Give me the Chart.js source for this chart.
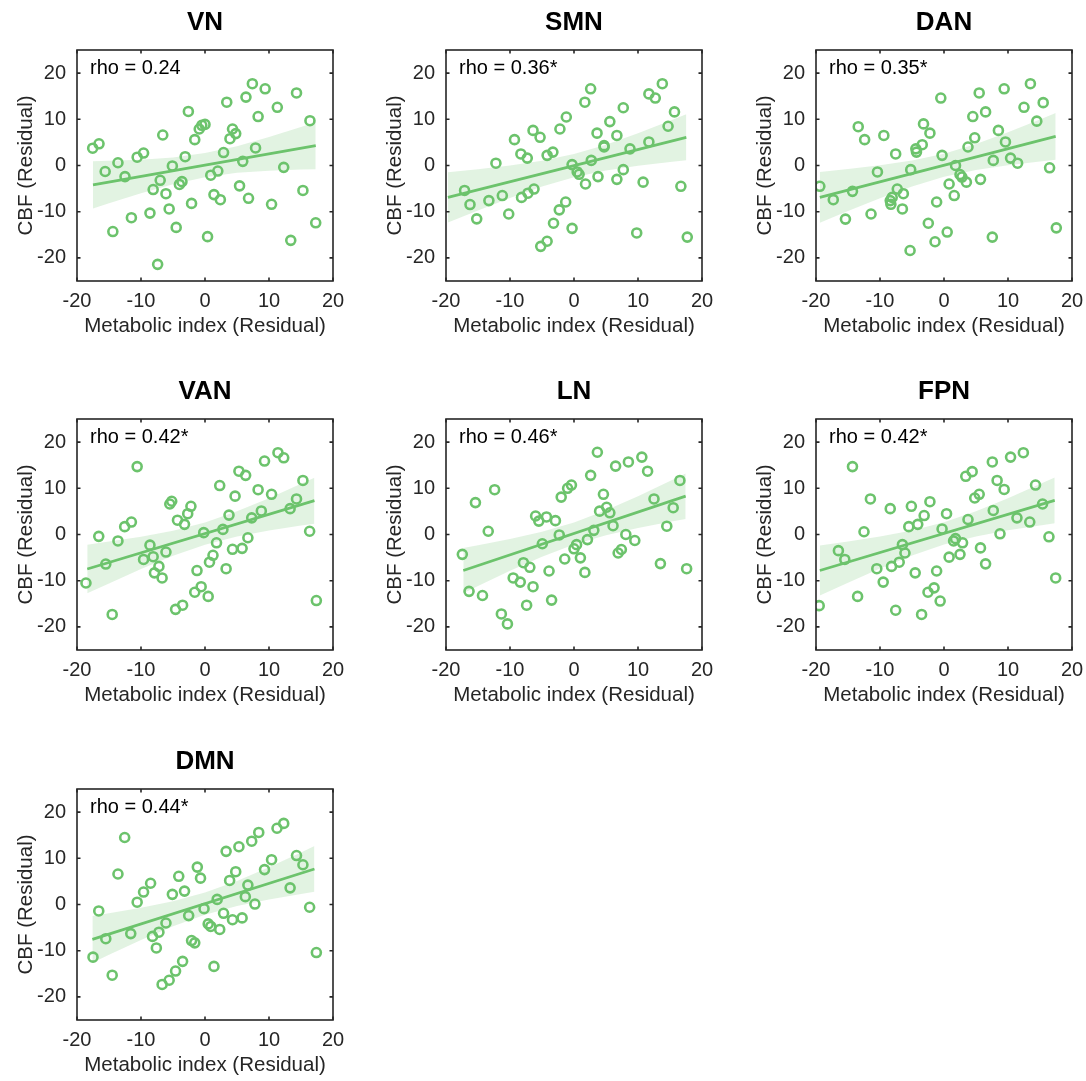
<!DOCTYPE html>
<html>
<head>
<meta charset="utf-8">
<script src="https://cdn.jsdelivr.net/npm/chart.js@4.4.1/dist/chart.umd.min.js"></script>
<style>
  body { margin: 0; background: #fff; }
  #wrap { position: relative; width: 1086px; height: 1081px; overflow: hidden; }
  #wrap canvas { position: absolute; }
</style>
</head>
<body>
<div id="wrap"></div>
<script>
// ---- data ----
const tickVals = [-20, -10, 0, 10, 20];

const vnX = [-17.55,-16.56,-15.6,-13.6,-12.5,-14.4,-11.5,-10.6,-9.6,-8.6,-8.1,-7.4,-7.0,-6.6,-6.1,-5.6,-5.1,-4.5,-4.0,-3.6,-3.1,-2.6,-2.1,-1.6,-0.9,-0.5,0,0.4,0.9,1.4,2.0,2.4,2.9,3.4,3.9,4.3,4.8,5.4,5.9,6.4,6.8,7.4,7.9,8.3,9.4,10.4,11.3,12.3,13.4,14.3,15.3,16.4,17.3];
const vnY = [3.75,4.7,-1.3,0.6,-2.4,-14.3,-11.3,1.8,2.7,-10.3,-5.2,-21.4,-3.2,6.6,-6.1,-9.4,-0.1,-13.4,-4.1,-3.5,1.9,11.7,-8.2,5.6,7.9,8.7,8.9,-15.4,-2.1,-6.3,-1.2,-7.4,2.8,13.7,5.8,7.9,6.9,-4.4,0.9,14.8,-7.1,17.7,3.8,10.6,16.6,-8.4,12.6,-0.4,-16.2,15.7,-5.4,9.7,-12.4];
const vnLineX = [-17.5, 17.3];
const vnLineY = [-4.2, 4.3];
const vnBandX = [-17.5, -15, -10, -5, 0, 5, 10, 15, 17.3];
const vnBandLo = [-9.33, -8.19, -6.0, -4.04, -2.53, -1.59, -1.11, -0.86, -0.79];
const vnBandHi = [0.93, 1.01, 1.26, 1.74, 2.68, 4.19, 6.15, 8.34, 9.39];

const smnX = [-17.1,-16.25,-15.2,-13.3,-12.2,-11.2,-10.2,-9.3,-8.3,-8.2,-7.3,-7.2,-6.4,-6.25,-5.3,-5.2,-4.2,-4.2,-3.3,-3.2,-2.3,-2.2,-1.3,-1.2,-0.3,-0.3,0.5,0.8,1.7,1.8,2.6,2.7,3.6,3.75,4.7,4.7,5.6,6.7,6.7,7.7,7.7,8.75,9.8,10.8,11.7,11.7,12.7,13.8,14.7,15.7,16.7,17.7];
const smnY = [-5.4,-8.45,-11.55,-7.6,0.5,-6.5,-10.5,5.6,2.5,-6.9,1.6,-6.0,7.6,-5.1,6.1,-17.5,-16.4,2.2,2.9,-12.5,-9.6,7.9,-7.9,10.5,-13.6,0.2,-1.4,-1.9,13.7,-4.0,16.6,1.1,7.0,-2.4,4.3,4.0,9.5,6.5,-3.0,12.5,-0.9,3.6,-14.6,-3.6,5.1,15.5,14.6,17.7,8.5,11.6,-4.5,-15.5];
const smnLineX = [-19.7, 17.55];
const smnLineY = [-6.9, 6.1];
const smnBandX = [-19.7, -15, -10, -5, 0, 5, 10, 15, 17.55];
const smnBandLo = [-12.35, -9.72, -7.03, -4.56, -2.53, -1.07, -0.05, 0.75, 1.11];
const smnBandHi = [-1.45, -0.8, 0, 1.02, 2.48, 4.51, 6.98, 9.67, 11.09];

const danX = [-19.4,-17.3,-15.4,-14.3,-13.4,-12.4,-11.4,-10.4,-9.4,-8.4,-8.3,-8.1,-7.55,-7.3,-6.35,-6.5,-5.3,-5.2,-4.4,-4.3,-3.4,-3.2,-2.45,-2.2,-1.4,-1.15,-0.5,-0.3,0.5,0.8,1.6,1.8,2.5,2.8,3.5,3.75,4.5,4.8,5.5,5.7,6.5,7.55,7.7,8.5,9.4,9.6,10.4,11.5,12.5,13.5,14.5,15.5,16.5,17.55];
const danY = [-4.5,-7.4,-11.6,-5.6,8.4,5.6,-10.5,-1.4,6.5,-7.6,-8.4,-6.9,2.5,-5.1,-6.1,-9.4,-18.4,-0.9,3.6,2.9,4.5,9.0,-12.5,7.0,-16.5,-7.9,14.6,2.2,-14.4,-4.0,-6.5,0,-1.95,-2.5,-3.6,4.0,10.6,6.0,15.7,-3.0,11.6,-15.5,1.1,7.6,16.6,5.1,1.6,0.5,12.6,17.7,9.6,13.6,-0.5,-13.5];
const danLineX = [-19.4, 17.45];
const danLineY = [-6.9, 6.3];
const danBandX = [-19.4, -15, -10, -5, 0, 5, 10, 15, 17.45];
const danBandLo = [-12.41, -9.86, -7.09, -4.54, -2.45, -0.96, 0.07, 0.88, 1.23];
const danBandHi = [-1.39, -0.78, 0.03, 1.06, 2.55, 4.64, 7.19, 9.96, 11.37];

const vanX = [-18.6,-16.6,-15.5,-14.5,-13.6,-12.55,-11.5,-10.6,-9.6,-8.6,-8.1,-7.9,-7.2,-6.7,-6.1,-5.5,-5.2,-4.6,-4.3,-3.5,-3.2,-2.7,-2.2,-1.6,-1.25,-0.6,-0.2,0.5,0.7,1.25,1.8,2.3,2.8,3.3,3.75,4.3,4.7,5.3,5.8,6.35,6.7,7.3,8.3,8.8,9.3,10.4,11.4,12.3,13.3,14.3,15.3,16.35,17.4];
const vanY = [-10.5,-0.4,-6.4,-17.3,-1.4,1.7,2.7,14.7,-5.4,-2.3,-4.8,-8.3,-6.9,-9.4,-3.8,6.6,7.2,-16.2,3.1,-15.3,2.2,4.5,6.1,-12.5,-7.8,-11.3,0.4,-13.4,-6.0,-4.5,-1.8,10.6,1.1,-7.4,4.2,-3.2,8.3,13.7,-3.0,12.8,-0.7,3.6,9.7,5.1,15.9,8.7,17.7,16.6,5.6,7.7,11.7,0.7,-14.3];
const vanLineX = [-18.4, 17.1];
const vanLineY = [-7.47, 7.33];
const vanBandX = [-18.4, -15, -10, -5, 0, 5, 10, 15, 17.1];
const vanBandLo = [-12.74, -10.58, -7.47, -4.61, -2.2, -0.43, 0.87, 1.94, 2.35];
const vanBandHi = [-2.2, -1.54, -0.47, 0.83, 2.6, 5.01, 7.87, 10.98, 12.31];

const lnX = [-17.45,-16.4,-15.4,-14.3,-13.4,-12.4,-11.35,-10.4,-9.5,-8.4,-7.9,-7.4,-6.9,-6.4,-6.0,-5.5,-4.95,-4.3,-3.9,-3.5,-2.9,-2.3,-2.0,-1.45,-1.0,-0.4,0,0.4,1.0,1.7,2.1,2.6,3.1,3.65,4.0,4.6,5.1,5.6,6.1,6.5,6.9,7.4,8.1,8.5,9.5,10.6,11.5,12.5,13.5,14.5,15.5,16.55,17.6];
const lnY = [-4.3,-12.3,6.9,-13.2,0.7,9.7,-17.2,-19.35,-9.4,-10.3,-6.1,-15.3,-7.1,-11.3,4.0,2.9,-2.0,3.8,-7.9,-14.2,3.0,-0.1,8.1,-5.3,10.0,10.7,-3.1,-2.2,-5.05,-8.2,-1.1,12.8,0.9,17.8,5.05,8.7,5.9,4.7,1.9,14.8,-4.0,-3.25,0,15.7,-1.3,16.75,13.7,7.7,-6.3,1.8,5.8,11.7,-7.4];
const lnLineX = [-17.3, 17.45];
const lnLineY = [-7.8, 8.3];
const lnBandX = [-17.3, -15, -10, -5, 0, 5, 10, 15, 17.45];
const lnBandLo = [-12.7, -11.15, -7.86, -4.81, -2.19, -0.17, 1.4, 2.75, 3.37];
const lnBandHi = [-2.9, -2.33, -0.98, 0.59, 2.61, 5.23, 8.28, 11.57, 13.23];

const fpnX = [-19.5,-16.5,-15.5,-14.3,-13.5,-12.5,-11.5,-10.5,-9.5,-8.4,-8.2,-7.55,-7.0,-6.5,-6.1,-5.5,-5.1,-4.5,-4.1,-3.5,-3.1,-2.5,-2.2,-1.55,-1.15,-0.6,-0.3,0.4,0.8,1.5,1.8,2.5,2.9,3.4,3.75,4.4,4.8,5.5,5.7,6.5,7.55,7.7,8.3,8.75,9.4,10.4,11.4,12.4,13.4,14.3,15.4,16.4,17.45];
const fpnY = [-15.4,-3.5,-5.4,14.7,-13.4,0.6,7.7,-7.4,-10.3,5.6,-6.9,-16.4,-6.0,-2.2,-4.0,1.7,6.1,-8.3,2.2,-17.3,4.1,-12.5,7.1,-11.55,-7.9,-14.4,1.2,4.5,-4.9,-1.4,-0.9,-4.3,-1.8,12.6,3.25,13.6,7.9,8.7,-2.9,-6.35,15.7,5.2,11.7,0.15,9.75,16.75,3.6,17.7,2.7,10.7,6.6,-0.5,-9.4];
const fpnLineX = [-19.4, 17.3];
const fpnLineY = [-7.8, 7.39];
const fpnBandX = [-19.4, -15, -10, -5, 0, 5, 10, 15, 17.3];
const fpnBandLo = [-13.23, -10.45, -7.38, -4.55, -2.17, -0.41, 0.9, 1.97, 2.43];
const fpnBandHi = [-2.37, -1.51, -0.44, 0.87, 2.63, 5.01, 7.84, 10.91, 12.35];

const dmnX = [-17.5,-16.6,-15.5,-14.5,-13.6,-12.55,-11.6,-10.6,-9.6,-8.5,-8.2,-7.6,-7.2,-6.7,-6.1,-5.6,-5.1,-4.6,-4.1,-3.5,-3.2,-2.55,-2.1,-1.6,-1.2,-0.7,-0.15,0.5,0.9,1.4,1.9,2.3,2.9,3.3,3.85,4.3,4.8,5.3,5.8,6.3,6.7,7.3,7.8,8.4,9.3,10.4,11.25,12.3,13.3,14.3,15.3,16.35,17.4];
const dmnY = [-11.4,-1.4,-7.4,-15.3,6.6,14.5,-6.3,0.5,2.7,4.6,-6.9,-9.4,-6.0,-17.3,-4.0,-16.4,2.2,-14.4,6.1,-12.3,2.9,-2.4,-7.8,-8.3,8.1,5.7,-0.9,-4.2,-4.75,-13.4,1.1,-5.4,-1.9,11.5,5.2,-3.3,7.1,12.5,-2.9,1.7,4.2,13.7,0.1,15.6,7.55,9.7,16.5,17.55,3.6,10.6,8.6,-0.6,-10.4];
const dmnLineX = [-17.6, 17.1];
const dmnLineY = [-7.55, 7.7];
const dmnBandX = [-17.6, -15, -10, -5, 0, 5, 10, 15, 17.1];
const dmnBandLo = [-12.61, -10.9, -7.7, -4.73, -2.22, -0.34, 1.09, 2.29, 2.75];
const dmnBandHi = [-2.49, -1.92, -0.72, 0.71, 2.59, 5.1, 8.07, 11.27, 12.65];

const names = ['VN', 'SMN', 'DAN', 'VAN', 'LN', 'FPN', 'DMN'];
const rhoLabels = ['rho = 0.24', 'rho = 0.36*', 'rho = 0.35*', 'rho = 0.42*', 'rho = 0.46*', 'rho = 0.42*', 'rho = 0.44*'];

// ---- drawing ----
const FONT = '"Liberation Sans", Arial, Helvetica, sans-serif';
const green = '#6cc36c';
const bandFill = 'rgba(108, 195, 108, 0.2)';
const axisCol = '#262626';
Chart.defaults.font.family = FONT;

const panels = [
  [vnX, vnY, vnLineX, vnLineY, vnBandX, vnBandLo, vnBandHi],
  [smnX, smnY, smnLineX, smnLineY, smnBandX, smnBandLo, smnBandHi],
  [danX, danY, danLineX, danLineY, danBandX, danBandLo, danBandHi],
  [vanX, vanY, vanLineX, vanLineY, vanBandX, vanBandLo, vanBandHi],
  [lnX, lnY, lnLineX, lnLineY, lnBandX, lnBandLo, lnBandHi],
  [fpnX, fpnY, fpnLineX, fpnLineY, fpnBandX, fpnBandLo, fpnBandHi],
  [dmnX, dmnY, dmnLineX, dmnLineY, dmnBandX, dmnBandLo, dmnBandHi]
];

const colLeft = [0, 369, 739];
const rowTop = [0, 369, 739];

function zip(xs, ys) { return xs.map((x, i) => ({ x: x, y: ys[i] })); }

// box with inward ticks on all four sides + rho text
const framePlugin = {
  id: 'frame',
  afterDatasetsDraw(chart, args, opts) {
    const { ctx, chartArea: a } = chart;
    const sx = chart.scales.x, sy = chart.scales.y;
    ctx.save();
    ctx.strokeStyle = axisCol;
    ctx.lineWidth = 1.6;
    ctx.strokeRect(a.left, a.top, a.right - a.left, a.bottom - a.top);
    ctx.beginPath();
    tickVals.forEach(v => {
      const px = sx.getPixelForValue(v), py = sy.getPixelForValue(v);
      ctx.moveTo(px, a.bottom); ctx.lineTo(px, a.bottom - 3.5);
      ctx.moveTo(px, a.top); ctx.lineTo(px, a.top + 3.5);
      ctx.moveTo(a.left, py); ctx.lineTo(a.left + 3.5, py);
      ctx.moveTo(a.right, py); ctx.lineTo(a.right - 3.5, py);
    });
    ctx.stroke();
    ctx.fillStyle = '#000';
    ctx.font = '20px ' + FONT;
    ctx.textBaseline = 'middle';
    ctx.textAlign = 'left';
    ctx.fillText(opts.text, a.left + 13, a.top + 18.5);
    ctx.restore();
  }
};

function makePanel(i) {
  const [px, py, lx, ly, bx, blo, bhi] = panels[i];
  const cv = document.createElement('canvas');
  cv.width = 360; cv.height = 341;
  cv.style.left = colLeft[i % 3] + 'px';
  cv.style.top = rowTop[Math.floor(i / 3)] + 'px';
  document.getElementById('wrap').appendChild(cv);

  new Chart(cv.getContext('2d'), {
    type: 'scatter',
    data: {
      datasets: [
        { type: 'line', data: zip(bx, bhi), borderColor: 'rgba(0,0,0,0)', pointRadius: 0, fill: false, order: 3 },
        { type: 'line', data: zip(bx, blo), borderColor: 'rgba(0,0,0,0)', pointRadius: 0, fill: '-1', backgroundColor: bandFill, order: 2 },
        { type: 'scatter', data: zip(px, py), pointRadius: 4.5, borderWidth: 2.6, borderColor: green, backgroundColor: 'rgba(0,0,0,0)', order: 1 },
        { type: 'line', data: zip(lx, ly), borderColor: green, borderWidth: 2.7, pointRadius: 0, fill: false, order: 0 }
      ]
    },
    options: {
      responsive: false,
      animation: false,
      events: [],
      layout: { padding: { left: 0, right: 27, top: 0, bottom: 0 } },
      plugins: {
        legend: { display: false },
        tooltip: { enabled: false },
        title: { display: true, text: names[i], fullSize: false, color: '#000', font: { size: 26, weight: 'bold' }, padding: { top: 7, bottom: 11.8 } },
        frame: { text: rhoLabels[i] }
      },
      scales: {
        x: {
          type: 'linear', min: -20, max: 20,
          afterBuildTicks: s => { s.ticks = tickVals.map(v => ({ value: v })); },
          afterFit: s => { s.height = 60; },
          grid: { display: false, drawTicks: false },
          border: { display: false },
          ticks: { padding: 8.5, color: axisCol, font: { size: 20 }, maxRotation: 0, autoSkip: false, callback: v => String(v) },
          title: { display: true, text: 'Metabolic index (Residual)', color: axisCol, font: { size: 20.5 }, padding: { top: 0, bottom: 2 } }
        },
        y: {
          type: 'linear', min: -25, max: 25,
          afterBuildTicks: s => { s.ticks = tickVals.map(v => ({ value: v })); },
          afterFit: s => { s.width = 77; },
          grid: { display: false, drawTicks: false },
          border: { display: false },
          ticks: { padding: 11, color: axisCol, font: { size: 20 }, autoSkip: false, callback: v => String(v) },
          title: { display: true, text: 'CBF (Residual)', color: axisCol, font: { size: 20.5 }, padding: { top: 14.5, bottom: 0 } }
        }
      }
    },
    plugins: [framePlugin]
  });
}

for (let i = 0; i < panels.length; i++) makePanel(i);
</script>
</body>
</html>
